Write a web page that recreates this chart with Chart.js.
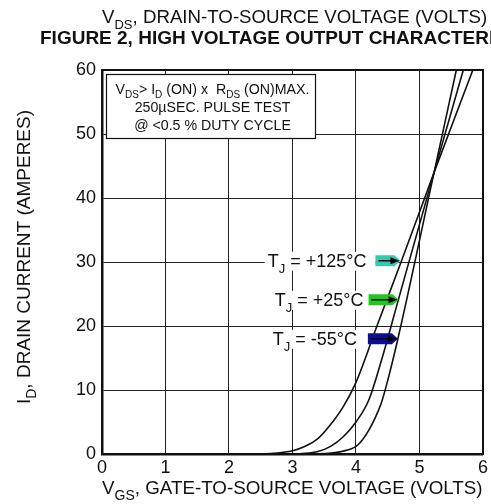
<!DOCTYPE html>
<html>
<head>
<meta charset="utf-8">
<script src="https://cdn.jsdelivr.net/npm/chart.js@4.4.1/dist/chart.umd.min.js"></script>
<style>
  html, body { margin: 0; padding: 0; background: #fff; }
  canvas { display: block; }
</style>
</head>
<body>
<canvas id="chart" width="491" height="504"></canvas>
<script>
// Axis ticks
const vgsTicks = [0, 1, 2, 3, 4, 5, 6];
const idTicks = [0, 10, 20, 30, 40, 50, 60];

// Transfer curves: gate-to-source voltage (V) vs drain current (A)
const vgs125 = [2.4, 2.7, 3.0, 3.2, 3.4, 3.6, 3.8, 4.0, 4.33, 4.71, 5.23, 5.84];
const id125  = [0,   0.1, 0.5, 1.2, 2.4, 4.6, 7.4, 11.2, 20,  30,   44,   60];

const vgs25 = [3.1, 3.4, 3.6, 3.8, 4.0, 4.2, 4.4,  4.67, 5.23, 5.69];
const id25  = [0,   0.4, 1.2, 2.7, 5.0, 8.4, 14.6, 24.2, 44,   60];

const vgsM55 = [3.3, 3.6,  3.8,  4.0, 4.1, 4.2, 4.3, 4.4, 4.5,  4.66, 5.23, 5.58];
const idM55  = [0,   0.15, 0.45, 1.2, 2.2, 3.7, 5.6, 8.0, 11.5, 18,   44,   60];

const seriesTemps = ['+125°C', '+25°C', '-55°C'];

const FONT = '"Liberation Sans", Arial, Helvetica, sans-serif';
const INK = '#111';

function pts(xs, ys) { return xs.map((x, i) => ({ x, y: ys[i] })); }

// Text runs with optional subscripts: [text, isSub]
function drawRich(ctx, parts, x, y, size, weight, align) {
  const base = `${weight} ${size}px ${FONT}`;
  const sub = `${weight} ${Math.round(size * 0.72)}px ${FONT}`;
  let w = 0;
  parts.forEach(p => { ctx.font = p[1] ? sub : base; w += ctx.measureText(p[0]).width; });
  let cx = align === 'center' ? x - w / 2 : align === 'right' ? x - w : x;
  ctx.textAlign = 'left';
  ctx.textBaseline = 'alphabetic';
  parts.forEach(p => {
    ctx.font = p[1] ? sub : base;
    ctx.fillText(p[0], cx, y + (p[1] ? size * 0.3 : 0));
    cx += ctx.measureText(p[0]).width;
  });
  return w;
}

// Temperature tags with pointer arrows (value coordinates, arrow tip on its curve)
const tags = [
  { temp: seriesTemps[0], id: 30.2, tip: 4.70, len: 25, gap: 9,  fill: '#35c9b4' },
  { temp: seriesTemps[1], id: 24.1, tip: 4.67, len: 30, gap: 5,  fill: '#1fc81f' },
  { temp: seriesTemps[2], id: 18.0, tip: 4.66, len: 30, gap: 11, fill: '#0c0c96' }
];

const decorations = {
  id: 'decorations',
  afterDatasetsDraw(chart) {
    const { ctx, chartArea: a, scales } = chart;
    const xs = scales.x, ys = scales.y;
    ctx.save();
    ctx.fillStyle = INK;

    // Frame (top/right edges heavier like the axis lines)
    ctx.strokeStyle = INK;
    ctx.lineWidth = 2;
    ctx.strokeRect(a.left, a.top, a.right - a.left, a.bottom - a.top);

    // Test-condition note box
    const bx = a.left + 4, by = a.top + 4, bw = 209, bh = 64;
    ctx.fillStyle = '#fff';
    ctx.fillRect(bx, by, bw, bh);
    ctx.lineWidth = 1.2;
    ctx.strokeStyle = INK;
    ctx.strokeRect(bx + 0.5, by + 0.5, bw, bh);
    ctx.fillStyle = INK;
    const bc = bx + bw / 2 + 2;
    drawRich(ctx, [['V'], ['DS', 1], ['> I'], ['D', 1], [' (ON) x  R'], ['DS', 1], [' (ON)MAX.']], bc, by + 20, 14.2, 'normal', 'center');
    drawRich(ctx, [['250µSEC. PULSE TEST']], bc, by + 38, 14.2, 'normal', 'center');
    drawRich(ctx, [['@ <0.5 % DUTY CYCLE']], bc, by + 56, 14.2, 'normal', 'center');

    // Temperature tags
    tags.forEach(t => {
      const xt = xs.getPixelForValue(t.tip);
      const yc = ys.getPixelForValue(t.id);
      const x0 = xt - t.len;
      const h = 11;
      const parts = [['T'], ['J', 1], [' = ' + t.temp]];
      let w = 0;
      parts.forEach(p => {
        ctx.font = p[1] ? `13px ${FONT}` : `18px ${FONT}`;
        w += ctx.measureText(p[0]).width;
      });
      const textRight = x0 - t.gap;
      ctx.fillStyle = '#fff';
      ctx.fillRect(textRight - w - 3, yc - 9, w + t.gap + 3, 19);
      ctx.fillStyle = INK;
      drawRich(ctx, parts, textRight, yc + 6.5, 18, 'normal', 'right');

      // arrow-shaped tag
      ctx.beginPath();
      ctx.moveTo(x0, yc - h / 2);
      ctx.lineTo(xt - 6, yc - h / 2);
      ctx.lineTo(xt, yc);
      ctx.lineTo(xt - 6, yc + h / 2);
      ctx.lineTo(x0, yc + h / 2);
      ctx.closePath();
      ctx.fillStyle = t.fill;
      ctx.fill();

      // black pointer
      ctx.strokeStyle = '#000';
      ctx.lineWidth = 1.5;
      ctx.beginPath();
      ctx.moveTo(x0 + 3, yc);
      ctx.lineTo(xt - 4, yc);
      ctx.stroke();
      ctx.fillStyle = '#000';
      ctx.beginPath();
      ctx.moveTo(xt - 1, yc);
      ctx.lineTo(xt - 10, yc - 3.5);
      ctx.lineTo(xt - 10, yc + 3.5);
      ctx.closePath();
      ctx.fill();
    });
    ctx.restore();
  },
  afterDraw(chart) {
    const { ctx, chartArea: a } = chart;
    ctx.save();
    ctx.fillStyle = INK;
    // Top axis caption and figure title
    drawRich(ctx, [['V'], ['DS', 1], [', DRAIN-TO-SOURCE VOLTAGE (VOLTS)']], a.left, 23, 18.7, 'normal', 'left');
    drawRich(ctx, [['FIGURE 2, HIGH VOLTAGE OUTPUT CHARACTERISTICS']], 40, 44, 19, 'bold', 'left');
    // Bottom axis caption
    drawRich(ctx, [['V'], ['GS', 1], [', GATE-TO-SOURCE VOLTAGE (VOLTS)']], a.left, 494, 18.8, 'normal', 'left');
    // Left axis caption
    ctx.translate(30, (a.top + a.bottom) / 2 - 5);
    ctx.rotate(-Math.PI / 2);
    drawRich(ctx, [['I'], ['D', 1], [', DRAIN CURRENT (AMPERES)']], 0, 0, 19, 'normal', 'center');
    ctx.restore();
  }
};

Chart.defaults.font.family = FONT;
Chart.defaults.color = INK;

const curve = (xs, ys) => ({
  data: pts(xs, ys),
  showLine: true,
  borderColor: '#111',
  borderWidth: 1.6,
  pointRadius: 0,
  cubicInterpolationMode: 'monotone',
  fill: false
});

new Chart(document.getElementById('chart'), {
  type: 'scatter',
  data: {
    datasets: [
      Object.assign(curve(vgs125, id125), { label: 'TJ = ' + seriesTemps[0] }),
      Object.assign(curve(vgs25, id25), { label: 'TJ = ' + seriesTemps[1] }),
      Object.assign(curve(vgsM55, idM55), { label: 'TJ = ' + seriesTemps[2] })
    ]
  },
  options: {
    responsive: false,
    animation: false,
    events: [],
    layout: { padding: { left: 0, top: 70, right: 5, bottom: 0 } },
    plugins: { legend: { display: false }, tooltip: { enabled: false }, title: { display: false } },
    scales: {
      x: {
        type: 'linear', min: 0, max: 6,
        afterBuildTicks: s => { s.ticks = vgsTicks.map(v => ({ value: v })); },
        afterFit: s => { s.height = 50; },
        grid: { color: '#222', lineWidth: 1, drawTicks: false },
        border: { display: true, color: '#111', width: 2.5 },
        ticks: { font: { size: 18 }, color: INK, padding: 3, maxRotation: 0 }
      },
      y: {
        type: 'linear', min: 0, max: 60,
        afterBuildTicks: s => { s.ticks = idTicks.map(v => ({ value: v })); },
        afterFit: s => { s.width = 102; },
        grid: { color: '#222', lineWidth: 1, drawTicks: false },
        border: { display: true, color: '#111', width: 2.5 },
        ticks: { font: { size: 18 }, color: INK, padding: 6 }
      }
    }
  },
  plugins: [decorations]
});
</script>
</body>
</html>
